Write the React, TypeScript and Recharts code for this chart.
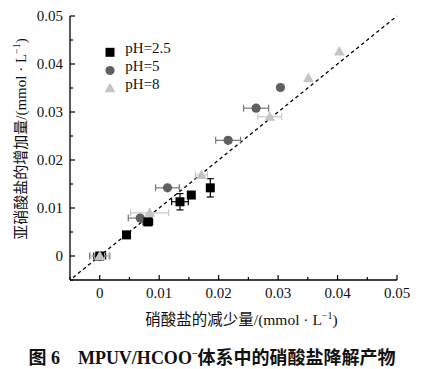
import React from 'react';
import { ScatterChart, Scatter, XAxis, YAxis, ReferenceLine, ErrorBar, Legend } from 'recharts';

// 硝酸盐的减少量 (x) vs 亚硝酸盐的增加量 (y), mmol/L
const ph25Removed = [0, 0.0045, 0.0081, 0.0135, 0.0154, 0.0186];
const ph25Formed = [0, 0.0044, 0.0071, 0.0113, 0.0127, 0.0142];
const ph25RemovedErr = [0.001, 0, 0.0008, 0.0014, 0, 0];
const ph25FormedErr = [0, 0, 0, 0.0017, 0, 0.0019];

const ph5Removed = [0, 0.0068, 0.0114, 0.0216, 0.0263, 0.0304];
const ph5Formed = [0, 0.0079, 0.0142, 0.0241, 0.0308, 0.0351];
const ph5RemovedErr = [0.0017, 0.002, 0.002, 0.0021, 0.0021, 0];
const ph5FormedErr = [0, 0, 0, 0.0005, 0.0005, 0];

const ph8Removed = [0, 0.0084, 0.0171, 0.0286, 0.0351, 0.0403];
const ph8Formed = [0, 0.009, 0.0169, 0.029, 0.0371, 0.0426];
const ph8RemovedErr = [0.0015, 0.0032, 0.001, 0.002, 0, 0];
const ph8FormedErr = [0, 0, 0, 0, 0, 0];

const seriesNames = ['pH=2.5', 'pH=5', 'pH=8'];
const axisTicks = [-0.005, 0, 0.005, 0.01, 0.015, 0.02, 0.025, 0.03, 0.035, 0.04, 0.045, 0.05];
const majorTicks = [0, 0.01, 0.02, 0.03, 0.04, 0.05];
const identityLine = [-0.0045, 0.05];

const build = (xs: number[], ys: number[], xe: number[], ye: number[]) =>
  xs.map((x, i) => ({ x, y: ys[i], xe: xe[i], ye: ye[i] }));

const ph25Data = build(ph25Removed, ph25Formed, ph25RemovedErr, ph25FormedErr);
const ph5Data = build(ph5Removed, ph5Formed, ph5RemovedErr, ph5FormedErr);
const ph8Data = build(ph8Removed, ph8Formed, ph8RemovedErr, ph8FormedErr);

const FONT = '"Liberation Serif", "Times New Roman", "Noto Sans CJK SC", serif';
const SQUARE = '#000000';
const CIRCLE = '#5f5f5f';
const TRIANGLE = '#c4c4c4';
const TICK_GAP = 7;

const isMajor = (v: number) => majorTicks.some((m) => Math.abs(m - v) < 1e-9);
const fmt = (v: number) => (v === 0 ? '0' : v.toFixed(2));

const square = (color: string) => (p: any) => (
  <rect x={p.cx - 4.5} y={p.cy - 4.5} width={9} height={9} fill={color} />
);
const circle = (color: string) => (p: any) => <circle cx={p.cx} cy={p.cy} r={4.6} fill={color} />;
const triangle = (color: string) => (p: any) => (
  <path d={`M${p.cx},${p.cy - 5.5}L${p.cx + 5.4},${p.cy + 4}L${p.cx - 5.4},${p.cy + 4}Z`} fill={color} />
);

function YTick(props: any) {
  const { x, y, payload } = props;
  const major = isMajor(payload.value);
  const ax = x + TICK_GAP;
  return (
    <g>
      <line x1={ax} x2={ax + (major ? 5 : 3)} y1={y} y2={y} stroke="#000" strokeWidth={1.2} />
      {major && (
        <text x={x} y={y} dy="0.35em" textAnchor="end" fontSize={15} fontFamily={FONT} fill="#111">
          {fmt(payload.value)}
        </text>
      )}
    </g>
  );
}

function XTick(props: any) {
  const { x, y, payload } = props;
  const major = isMajor(payload.value);
  const ay = y - TICK_GAP;
  return (
    <g>
      <line x1={x} x2={x} y1={ay} y2={ay - (major ? 5 : 3)} stroke="#000" strokeWidth={1.2} />
      {major && (
        <text x={x} y={y} dy="0.71em" textAnchor="middle" fontSize={15} fontFamily={FONT} fill="#111">
          {fmt(payload.value)}
        </text>
      )}
    </g>
  );
}

function XLabel(props: any) {
  const { viewBox } = props;
  return (
    <text x={viewBox.x + viewBox.width / 2 + 8} y={viewBox.y + 45} textAnchor="middle" fontSize={15.5} fontFamily={FONT} fill="#111">
      硝酸盐的减少量/(mmol · L<tspan dy={-6} fontSize={10}>−1</tspan>
      <tspan dy={6}>)</tspan>
    </text>
  );
}

function YLabel(props: any) {
  const { viewBox } = props;
  const cx = viewBox.x + 11;
  const cy = viewBox.y + viewBox.height / 2 - 9;
  return (
    <text x={cx} y={cy} transform={`rotate(-90, ${cx}, ${cy})`} dy="0.35em" textAnchor="middle" fontSize={15} fontFamily={FONT} fill="#111">
      亚硝酸盐的增加量/(mmol · L<tspan dy={-6} fontSize={10}>−1</tspan>
      <tspan dy={6}>)</tspan>
    </text>
  );
}

function LegendBox() {
  const rows = [14.3, 32.5, 50.3];
  const shapes = [square(SQUARE), circle(CIRCLE), triangle(TRIANGLE)];
  return (
    <svg width={90} height={62}>
      {seriesNames.map((name, i) => (
        <g key={name}>
          {shapes[i]({ cx: 10, cy: rows[i] })}
          <text x={25.3} y={rows[i] + 0.5} fontSize={15} fontFamily={FONT} fill="#111">
            {name}
          </text>
        </g>
      ))}
    </svg>
  );
}

export default function App() {
  return (
    <div style={{ position: 'absolute', left: 0, top: 0, width: 432, height: 369, background: '#fff', fontFamily: FONT }}>
      <ScatterChart width={432} height={330} margin={{ top: 16, right: 35, bottom: 0, left: 10 }}>
        <XAxis
          type="number"
          dataKey="x"
          domain={[-0.005, 0.05]}
          ticks={axisTicks}
          interval={0}
          tickSize={0}
          tickMargin={TICK_GAP}
          tick={<XTick />}
          height={50}
          stroke="#000"
          strokeWidth={1.3}
          allowDataOverflow
          label={<XLabel />}
        />
        <YAxis
          type="number"
          dataKey="y"
          domain={[-0.005, 0.05]}
          ticks={axisTicks}
          interval={0}
          tickSize={0}
          tickMargin={TICK_GAP}
          tick={<YTick />}
          width={60}
          stroke="#000"
          strokeWidth={1.3}
          allowDataOverflow
          label={<YLabel />}
        />
        <ReferenceLine
          segment={[
            { x: identityLine[0], y: identityLine[0] },
            { x: identityLine[1], y: identityLine[1] },
          ]}
          stroke="#000"
          strokeWidth={1.3}
          strokeDasharray="3.5 3"
        />
        <Legend
          layout="vertical"
          align="center"
          verticalAlign="middle"
          wrapperStyle={{ left: 100, top: 38, width: 90, height: 62 }}
          content={() => <LegendBox />}
        />
        <Scatter name={seriesNames[1]} data={ph5Data} shape={circle(CIRCLE)} isAnimationActive={false}>
          <ErrorBar dataKey="xe" direction="x" width={3.5} stroke="#777" strokeWidth={1.2} />
          <ErrorBar dataKey="ye" direction="y" width={3.5} stroke="#777" strokeWidth={1.2} />
        </Scatter>
        <Scatter name={seriesNames[0]} data={ph25Data} shape={square(SQUARE)} isAnimationActive={false}>
          <ErrorBar dataKey="xe" direction="x" width={3.5} stroke="#000" strokeWidth={1.2} />
          <ErrorBar dataKey="ye" direction="y" width={3.5} stroke="#000" strokeWidth={1.2} />
        </Scatter>
        <Scatter name={seriesNames[2]} data={ph8Data} shape={triangle(TRIANGLE)} isAnimationActive={false}>
          <ErrorBar dataKey="xe" direction="x" width={3.5} stroke="#c8c8c8" strokeWidth={1.2} />
          <ErrorBar dataKey="ye" direction="y" width={3.5} stroke="#c8c8c8" strokeWidth={1.2} />
        </Scatter>
      </ScatterChart>
      <div
        style={{
          position: 'absolute',
          left: 0,
          top: 343,
          width: 424,
          textAlign: 'center',
          fontSize: 18,
          fontWeight: 'bold',
          color: '#111',
          fontFamily: '"Liberation Serif", "Noto Sans CJK SC", serif',
          whiteSpace: 'nowrap',
        }}
      >
        <span style={{ fontFamily: '"Noto Sans CJK SC", sans-serif' }}>图</span> 6{'\u2003'}MPUV/HCOO
        <sup style={{ fontSize: 10 }}>−</sup>
        <span style={{ fontFamily: '"Noto Sans CJK SC", sans-serif' }}>体系中的硝酸盐降解产物</span>
      </div>
    </div>
  );
}
